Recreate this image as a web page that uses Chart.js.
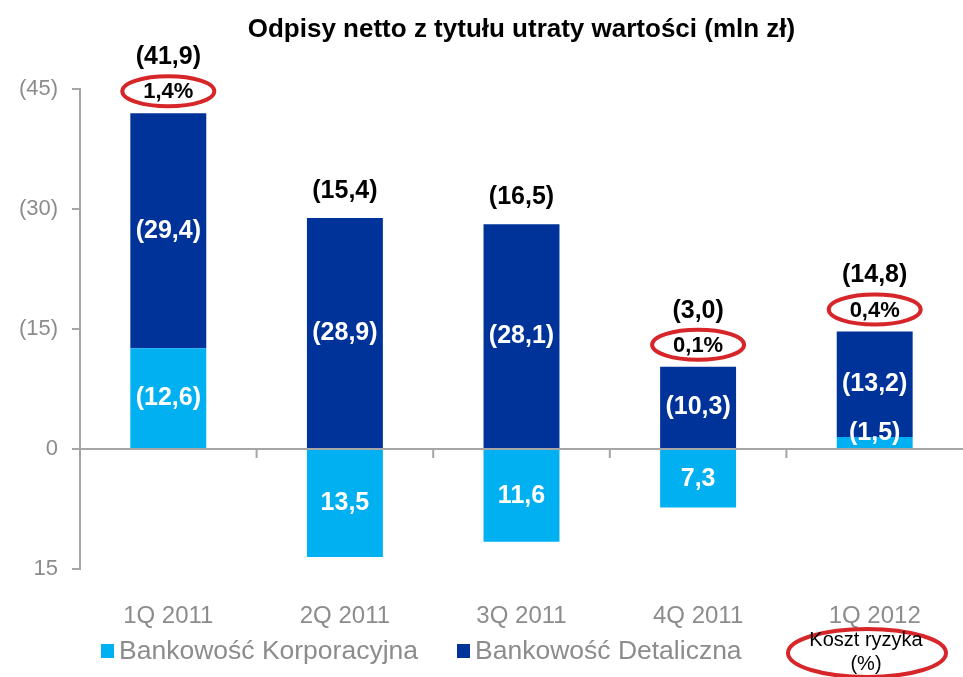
<!DOCTYPE html>
<html>
<head>
<meta charset="utf-8">
<script src="https://cdn.jsdelivr.net/npm/chart.js@4"></script>
<style>
  html, body { margin: 0; padding: 0; background: #fff; }
  #wrap { width: 963px; height: 677px; }
</style>
</head>
<body>
<div id="wrap"><canvas id="odpisy"></canvas></div>
<script>
// dane (charge = positive, shown in parentheses)
const quarters = ['1Q 2011', '2Q 2011', '3Q 2011', '4Q 2011', '1Q 2012'];
const korporacyjna = [12.6, -13.5, -11.6, -7.3, 1.5];
const detaliczna = [29.4, 28.9, 28.1, 10.3, 13.2];
const korpLabels = ['(12,6)', '13,5', '11,6', '7,3', '(1,5)'];
const detLabels = ['(29,4)', '(28,9)', '(28,1)', '(10,3)', '(13,2)'];
const totalLabels = ['(41,9)', '(15,4)', '(16,5)', '(3,0)', '(14,8)'];
const kosztRyzyka = ['1,4%', null, null, '0,1%', '0,4%'];

const LIGHT = '#00B0F0';
const DARK = '#003399';
const GREY = '#8c8c8c';
const RED = '#D7262A';
const FONT = 'Arial, "Liberation Sans", sans-serif';

function redEllipse(ctx, x, y, rx, ry) {
  ctx.save();
  ctx.beginPath();
  ctx.ellipse(x, y, rx, ry, 0, 0, Math.PI * 2);
  ctx.strokeStyle = RED;
  ctx.lineWidth = 4;
  ctx.stroke();
  ctx.restore();
}

const labelsPlugin = {
  id: 'labelsPlugin',
  afterDatasetsDraw(chart) {
    const ctx = chart.ctx;
    const xs = chart.scales.x, ys = chart.scales.y;
    const area = chart.chartArea;
    const zero = ys.getPixelForValue(0);

    // zero line with category ticks
    ctx.save();
    ctx.strokeStyle = '#a6a6a6';
    ctx.lineWidth = 2;
    ctx.beginPath();
    ctx.moveTo(area.left, zero);
    ctx.lineTo(chart.width, zero);
    for (let i = 1; i < quarters.length; i++) {
      const bx = (xs.getPixelForValue(i - 1) + xs.getPixelForValue(i)) / 2;
      ctx.moveTo(bx, zero);
      ctx.lineTo(bx, zero + 9);
    }
    ctx.stroke();
    ctx.restore();

    const m0 = chart.getDatasetMeta(0), m1 = chart.getDatasetMeta(1);
    ctx.save();
    ctx.textAlign = 'center';
    ctx.textBaseline = 'middle';
    quarters.forEach((q, i) => {
      const b0 = m0.data[i], b1 = m1.data[i];
      // inside labels
      ctx.fillStyle = '#fff';
      ctx.font = 'bold 25px ' + FONT;
      ctx.fillText(detLabels[i], b1.x, (b1.y + b1.base) / 2);
      let ky = (b0.y + b0.base) / 2;
      if (Math.abs(b0.y - b0.base) < 30) ky = b0.y - 4;
      ctx.fillText(korpLabels[i], b0.x, ky);

      const top = Math.min(b1.y, b0.y);
      ctx.fillStyle = '#000';
      if (kosztRyzyka[i]) {
        redEllipse(ctx, b1.x, top - 22, 46, 15);
        ctx.font = 'bold 22px ' + FONT;
        ctx.fillText(kosztRyzyka[i], b1.x, top - 21);
        ctx.font = 'bold 25px ' + FONT;
        ctx.fillText(totalLabels[i], b1.x, top - 56);
      } else {
        ctx.font = 'bold 25px ' + FONT;
        ctx.fillText(totalLabels[i], b1.x, top - 27);
      }
    });
    ctx.restore();

    // legend
    ctx.save();
    ctx.textBaseline = 'middle';
    ctx.textAlign = 'left';
    const ly = 651;
    ctx.font = '26.5px ' + FONT;
    ctx.fillStyle = LIGHT;
    ctx.fillRect(101, ly - 7, 13, 14);
    ctx.fillStyle = GREY;
    ctx.fillText('Bankowość Korporacyjna', 119, ly + 1);
    ctx.fillStyle = DARK;
    ctx.fillRect(457, ly - 7, 13, 14);
    ctx.fillStyle = GREY;
    ctx.fillText('Bankowość Detaliczna', 475, ly + 1);
    redEllipse(ctx, 867, 653, 79, 24);
    ctx.fillStyle = '#000';
    ctx.textAlign = 'center';
    ctx.font = '20px ' + FONT;
    ctx.fillText('Koszt ryzyka', 866, 640);
    ctx.fillText('(%)', 866, 664);
    ctx.restore();
  }
};

const dataOdpisy = {
  labels: quarters,
  datasets: [
    {
      label: 'Bankowość Korporacyjna',
      data: korporacyjna,
      backgroundColor: LIGHT,
      stack: 's'
    },
    {
      label: 'Bankowość Detaliczna',
      data: detaliczna,
      backgroundColor: DARK,
      stack: 's'
    }
  ]
};

const configOdpisy = {
  type: 'bar',
  data: dataOdpisy,
  options: {
    responsive: true,
    maintainAspectRatio: false,
    animation: false,
    layout: { padding: { left: 0, right: 0, top: 0, bottom: 0 } },
    datasets: { bar: { categoryPercentage: 1, barPercentage: 0.43 } },
    plugins: {
      legend: { display: false },
      tooltip: { enabled: false },
      title: {
        display: true,
        fullSize: false,
        text: 'Odpisy netto z tytułu utraty wartości (mln zł)',
        color: '#000',
        font: { family: FONT, size: 26, weight: 'bold', lineHeight: 1.2 },
        padding: { top: 14, bottom: 44 }
      }
    },
    scales: {
      x: {
        stacked: true,
        grid: { display: false },
        border: { display: false },
        ticks: { color: GREY, font: { family: FONT, size: 24 }, padding: 25 },
        afterFit(scale) { scale.height = 108; }
      },
      y: {
        stacked: true,
        min: -15,
        max: 45,
        grid: { drawOnChartArea: false, drawTicks: true, tickLength: 8, color: '#a6a6a6', lineWidth: 2 },
        border: { display: true, color: '#a6a6a6', width: 2 },
        ticks: {
          stepSize: 15,
          color: GREY,
          padding: 14,
          font: { family: FONT, size: 22 },
          callback: v => v > 0 ? '(' + v + ')' : (v < 0 ? String(-v) : '0')
        },
        afterFit(scale) { scale.width = 80; }
      }
    }
  },
  plugins: [labelsPlugin]
};

let odpisyGraph = new Chart(document.getElementById('odpisy'), configOdpisy);
</script>
</body>
</html>
